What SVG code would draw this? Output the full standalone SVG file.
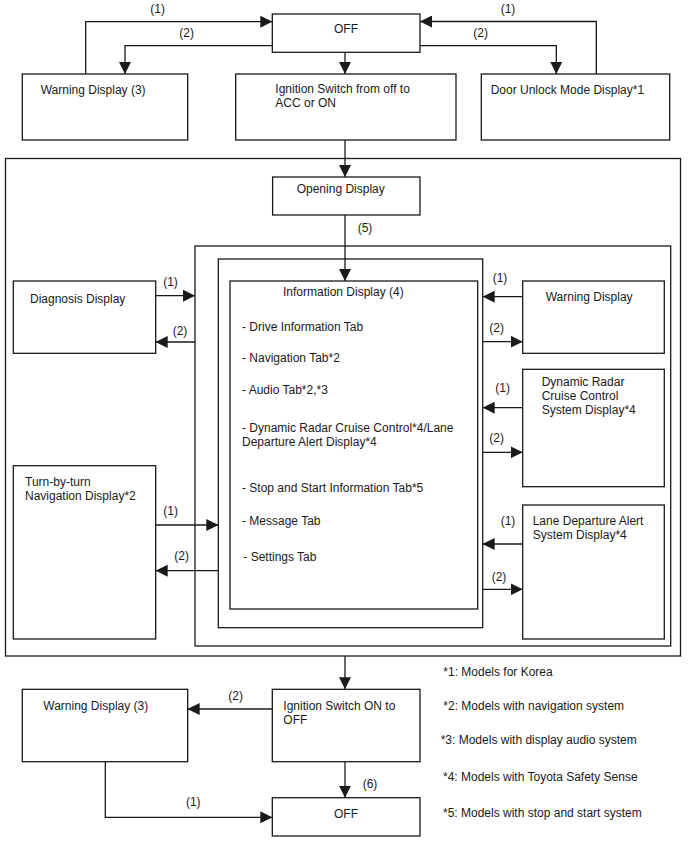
<svg xmlns="http://www.w3.org/2000/svg" width="688" height="852" viewBox="0 0 688 852">
<defs>
<marker id="ah" markerUnits="userSpaceOnUse" markerWidth="12" markerHeight="12" refX="12" refY="6" orient="auto">
<path d="M0,0 L12,6 L0,12 z" fill="#1a1a1a"/>
</marker>
<style>
.box{fill:#fff;stroke:#1a1a1a;stroke-width:1.3}
.frame{fill:none;stroke:#1a1a1a;stroke-width:1.3}
.c{fill:none;stroke:#1a1a1a;stroke-width:1.3;marker-end:url(#ah)}
text{font-family:"Liberation Sans",Arial,sans-serif;font-size:12px;fill:#1a1a1a}
.m{text-anchor:middle}
</style>
</defs>
<rect width="688" height="852" fill="#fff"/>

<g id="containers">
<rect class="frame" x="5.5" y="158.5" width="675" height="497.5"/>
<rect class="frame" x="195" y="246" width="475.7" height="400"/>
<rect class="frame" x="218.3" y="259" width="264.4" height="368.7"/>
</g>

<g id="off-top"><rect class="box" x="272.3" y="14" width="147.7" height="38.3"/><text class="m" x="346" y="33">OFF</text></g>
<g id="warning-top"><rect class="box" x="22.3" y="74" width="165.4" height="66"/><text x="40.7" y="94">Warning Display (3)</text></g>
<g id="ignition-on"><rect class="box" x="235.7" y="74" width="220.3" height="66"/><text x="275.3" y="93">Ignition Switch from off to</text><text x="275.3" y="107">ACC or ON</text></g>
<g id="door-unlock"><rect class="box" x="481.3" y="74" width="188.4" height="66"/><text x="490.7" y="94">Door Unlock Mode Display*1</text></g>

<g id="opening"><rect class="box" x="272.6" y="177" width="147.4" height="38"/><text x="296.7" y="193">Opening Display</text></g>

<g id="info"><rect class="box" x="230" y="281" width="247.7" height="328"/>
<text x="283" y="296">Information Display (4)</text>
<text x="242" y="331">- Drive Information Tab</text>
<text x="242" y="362">- Navigation Tab*2</text>
<text x="242" y="394">- Audio Tab*2,*3</text>
<text x="242" y="432">- Dynamic Radar Cruise Control*4/Lane</text>
<text x="242" y="446">Departure Alert Display*4</text>
<text x="242" y="492">- Stop and Start Information Tab*5</text>
<text x="242" y="525">- Message Tab</text>
<text x="243.3" y="561">- Settings Tab</text>
</g>

<g id="diagnosis"><rect class="box" x="13.3" y="281" width="142.4" height="72.3"/><text x="30" y="303">Diagnosis Display</text></g>
<g id="turn-by-turn"><rect class="box" x="13.3" y="465.7" width="142.4" height="173.3"/><text x="25" y="485.7">Turn-by-turn</text><text x="25" y="500">Navigation Display*2</text></g>
<g id="warning-right"><rect class="box" x="522.7" y="281" width="141.6" height="72.3"/><text x="545.7" y="300.7">Warning Display</text></g>
<g id="radar"><rect class="box" x="522.7" y="369.3" width="141.6" height="117.4"/><text x="541.7" y="385.7">Dynamic Radar</text><text x="541.7" y="399.7">Cruise Control</text><text x="541.7" y="414">System Display*4</text></g>
<g id="lane"><rect class="box" x="522.7" y="505" width="141.6" height="134"/><text x="532.7" y="524.7">Lane Departure Alert</text><text x="532.7" y="539">System Display*4</text></g>

<g id="ignition-off"><rect class="box" x="272.3" y="689.3" width="147.7" height="72.4"/><text x="283.3" y="709.7">Ignition Switch ON to</text><text x="283.3" y="723.5">OFF</text></g>
<g id="warning-bottom"><rect class="box" x="22.3" y="689.3" width="165.4" height="72.4"/><text x="43.3" y="709.7">Warning Display (3)</text></g>
<g id="off-bottom"><rect class="box" x="272.3" y="797.7" width="147.7" height="38.3"/><text class="m" x="346" y="818">OFF</text></g>

<g id="connectors">
<path class="c" d="M85.7,74 V21.7 H272.3"/>
<path class="c" d="M272.3,45.7 H125 V74"/>
<path class="c" d="M345,52.3 V74"/>
<path class="c" d="M420,45.7 H556.3 V74"/>
<path class="c" d="M596.3,74 V21.5 H420"/>
<path class="c" d="M345,140 V177"/>
<path class="c" d="M345,215 V281"/>
<path class="c" d="M155.7,295.7 H195"/>
<path class="c" d="M195,342 H155.7"/>
<path class="c" d="M155.7,525 H218.3"/>
<path class="c" d="M218.3,570.7 H155.7"/>
<path class="c" d="M522.7,296.7 H482.7"/>
<path class="c" d="M482.7,341.7 H522.7"/>
<path class="c" d="M522.7,407.7 H482.7"/>
<path class="c" d="M482.7,452.3 H522.7"/>
<path class="c" d="M522.7,544 H482.7"/>
<path class="c" d="M482.7,589.3 H522.7"/>
<path class="c" d="M345,656 V689.3"/>
<path class="c" d="M272.3,709 H187.7"/>
<path class="c" d="M345,761.7 V797.7"/>
<path class="c" d="M105.3,761.7 V817.3 H272.3"/>
</g>

<g id="connector-labels">
<text class="m" x="157.7" y="13.3">(1)</text>
<text class="m" x="186.7" y="37.3">(2)</text>
<text class="m" x="508" y="13.3">(1)</text>
<text class="m" x="480.7" y="37">(2)</text>
<text class="m" x="365" y="232">(5)</text>
<text class="m" x="170.5" y="285.7">(1)</text>
<text class="m" x="180" y="335">(2)</text>
<text class="m" x="170.7" y="515">(1)</text>
<text class="m" x="181.7" y="560">(2)</text>
<text class="m" x="500" y="282">(1)</text>
<text class="m" x="496.7" y="332">(2)</text>
<text class="m" x="502.7" y="392">(1)</text>
<text class="m" x="496.7" y="442">(2)</text>
<text class="m" x="508" y="524.7">(1)</text>
<text class="m" x="499" y="580.7">(2)</text>
<text class="m" x="235.7" y="699.7">(2)</text>
<text class="m" x="193.3" y="806.3">(1)</text>
<text class="m" x="370" y="788.3">(6)</text>
</g>

<g id="notes">
<text x="443.3" y="675.7">*1: Models for Korea</text>
<text x="443.3" y="709.7">*2: Models with navigation system</text>
<text x="440.7" y="744">*3: Models with display audio system</text>
<text x="443" y="780.7">*4: Models with Toyota Safety Sense</text>
<text x="443" y="816.7">*5: Models with stop and start system</text>
</g>
</svg>
